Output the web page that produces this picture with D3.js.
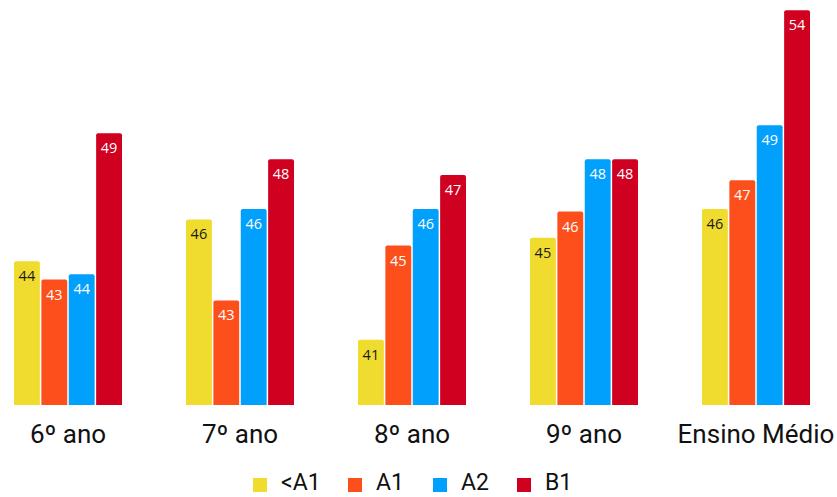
<!DOCTYPE html>
<html>
<head>
<meta charset="utf-8">
<script src="https://cdn.jsdelivr.net/npm/d3@7"></script>
<style>
  html, body { margin: 0; padding: 0; background: #fff; }
  svg { display: block; font-family: Roboto, "Open Sans", sans-serif; }
</style>
</head>
<body>
<svg id="chart" width="837" height="497"></svg>
<script>
// Grade levels along the x axis
const categories = ["6º ano", "7º ano", "8º ano", "9º ano", "Ensino Médio"];
// Proficiency levels (one bar per level in each group)
const seriesNames = ["<A1", "A1", "A2", "B1"];
const seriesColors = ["#F0DC2E", "#FD4F1C", "#00A0FC", "#CF0020"];
// Scores per level, in category order
const valuesBelowA1 = [44.1, 45.7, 41.1, 45.0, 46.1];
const valuesA1      = [43.4, 42.6, 44.7, 46.0, 47.2];
const valuesA2      = [43.6, 46.1, 46.1, 48.0, 49.3];
const valuesB1      = [49.0, 48.0, 47.4, 48.0, 53.7];
const seriesValues = [valuesBelowA1, valuesA1, valuesA2, valuesB1];

const svg = d3.select("#chart");
const baseY = 405;

const x0 = d3.scaleBand()
  .domain(categories)
  .range([-18, 842])
  .paddingInner(0.372)
  .paddingOuter(0.186);

const x1 = d3.scaleBand()
  .domain(seriesNames)
  .range([0, x0.bandwidth()])
  .paddingInner(0.055);

const y = d3.scaleLinear()
  .domain([38.6, 53.75])
  .range([baseY, 9]);

const rows = categories.map((c, i) => ({
  category: c,
  bars: seriesNames.map((s, j) => ({ series: s, idx: j, value: seriesValues[j][i] }))
}));

const groups = svg.selectAll("g.group")
  .data(rows)
  .join("g")
  .attr("class", "group")
  .attr("transform", d => `translate(${x0(d.category)},0)`);

// Bars with slightly rounded top corners
const r = 2;
groups.selectAll("path.bar")
  .data(d => d.bars)
  .join("path")
  .attr("class", "bar")
  .attr("fill", d => seriesColors[d.idx])
  .attr("d", d => {
    const xl = x1(d.series), w = x1.bandwidth(), yt = y(d.value);
    return `M${xl},${baseY}V${yt + r}Q${xl},${yt} ${xl + r},${yt}H${xl + w - r}Q${xl + w},${yt} ${xl + w},${yt + r}V${baseY}Z`;
  });

// Value labels just inside the top of each bar
groups.selectAll("text.val")
  .data(d => d.bars)
  .join("text")
  .attr("class", "val")
  .attr("x", d => x1(d.series) + x1.bandwidth() / 2)
  .attr("y", d => y(d.value) + 20)
  .attr("text-anchor", "middle")
  .attr("font-size", 14.5)
  .attr("font-family", "'Open Sans', sans-serif")
  .attr("fill", d => d.idx === 0 ? "#1a1a1a" : "#ffffff")
  .text(d => d3.format(".0f")(d.value));

// Category axis labels
const xAxis = d3.axisBottom(x0).tickSize(0).tickPadding(0);
const axisG = svg.append("g")
  .attr("transform", `translate(0,${baseY})`)
  .call(xAxis);
axisG.select(".domain").remove();
axisG.selectAll("text")
  .attr("y", 38)
  .attr("dy", 0)
  .attr("font-size", 26)
  .attr("font-family", "Roboto, sans-serif")
  .attr("fill", "#111");

// Legend
const legend = svg.append("g").attr("transform", "translate(0,485)");
const legendX = [253, 348, 433, 517];
const items = legend.selectAll("g.item")
  .data(seriesNames)
  .join("g")
  .attr("class", "item")
  .attr("transform", (d, i) => `translate(${legendX[i]},0)`);
items.append("rect")
  .attr("x", 0).attr("y", -7)
  .attr("width", 14).attr("height", 14)
  .attr("fill", (d, i) => seriesColors[i]);
items.append("text")
  .attr("x", 28)
  .attr("y", 5)
  .attr("font-size", 23)
  .attr("fill", "#111")
  .text(d => d);
</script>
</body>
</html>
